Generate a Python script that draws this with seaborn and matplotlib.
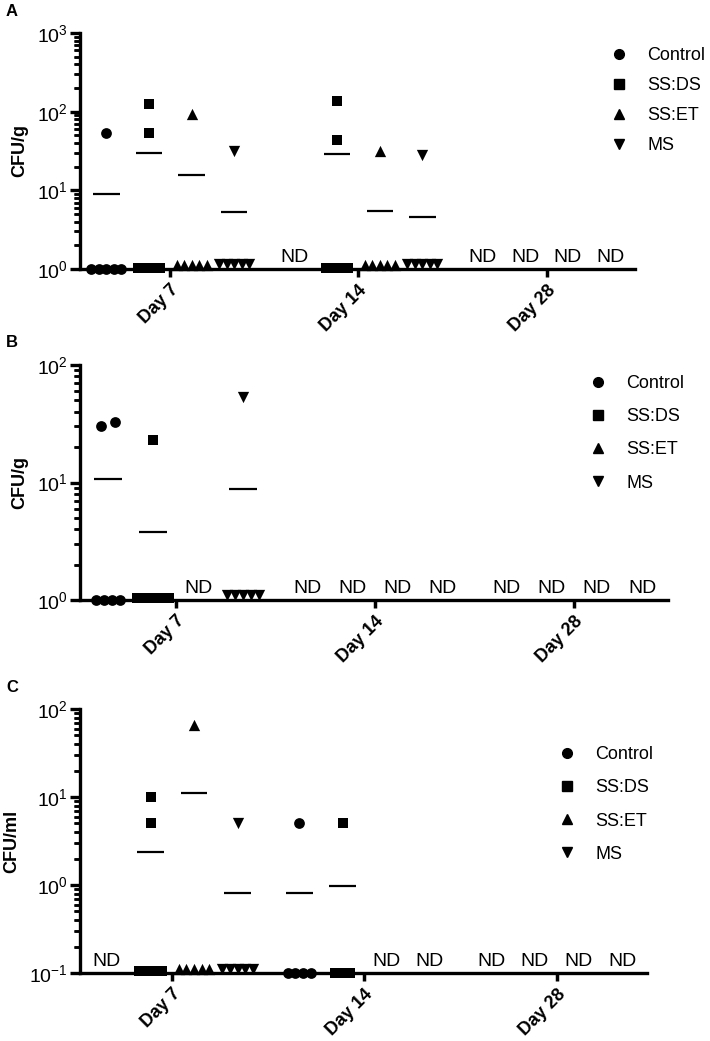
import numpy as np
import pandas as pd
import matplotlib
matplotlib.use('Agg')
import matplotlib.pyplot as plt
from matplotlib.lines import Line2D
from matplotlib.ticker import FixedLocator, LogFormatterSciNotation, NullFormatter
import seaborn as sns

sns.set_theme(style='ticks')
plt.rcParams['font.family'] = ['Liberation Sans', 'DejaVu Sans']
plt.rcParams['mathtext.fontset'] = 'custom'
plt.rcParams['mathtext.rm'] = 'Liberation Sans'
plt.rcParams['mathtext.bf'] = 'Liberation Sans:bold'
plt.rcParams['mathtext.default'] = 'bf'
for k in ['text.color', 'axes.labelcolor', 'xtick.color', 'ytick.color', 'axes.edgecolor']:
    plt.rcParams[k] = 'black'

days = ['Day 7', 'Day 14', 'Day 28']
groups = ['Control', 'SS:DS', 'SS:ET', 'MS']
markers = {'Control': 'o', 'SS:DS': 's', 'SS:ET': '^', 'MS': 'v'}
msizes = {'Control': 60, 'SS:DS': 42, 'SS:ET': 66, 'MS': 66}

# panel A, CFU/g (None = ND)
a_control = [[54, 1, 1, 1, 1, 1], None, None]
a_ssds = [[126, 54, 1.03, 1.03, 1.03, 1.03], [135, 44, 1.03, 1.03, 1.03, 1.03], None]
a_sset = [[93, 1.12, 1.12, 1.12, 1.12, 1.12], [32, 1.12, 1.12, 1.12, 1.12, 1.12], None]
a_ms = [[32, 1.15, 1.15, 1.15, 1.15, 1.15], [28, 1.15, 1.15, 1.15, 1.15, 1.15], None]
a_means = [[9.0, None, None], [30, 29, None], [15.6, 5.5, None], [5.3, 4.6, None]]

# panel B, CFU/g
b_control = [[30, 33, 1, 1, 1, 1], None, None]
b_ssds = [[23, 1.05, 1.05, 1.05, 1.05, 1.05], None, None]
b_sset = [None, None, None]
b_ms = [[53, 1.1, 1.1, 1.1, 1.1, 1.1], None, None]
b_means = [[10.7, None, None], [3.8, None, None], [None, None, None], [8.8, None, None]]

# panel C, CFU/ml
c_control = [None, [5, 0.1, 0.1, 0.1, 0.1], None]
c_ssds = [[10, 5, 0.105, 0.105, 0.105, 0.105], [5, 0.1, 0.1, 0.1], None]
c_sset = [[66, 0.11, 0.11, 0.11, 0.11, 0.11], None, None]
c_ms = [[5, 0.11, 0.11, 0.11, 0.11, 0.11], None, None]
c_means = [[None, 0.81, None], [2.4, 0.98, None], [11, None, None], [0.81, None, None]]

offsets = [-0.34, -0.113, 0.113, 0.34]


def spread(vals, center):
    # close values are spread sideways like a column scatter
    vals = np.asarray(vals, dtype=float)
    logs = np.log10(vals)
    order = np.argsort(logs)
    xs = np.full(len(vals), center)
    clusters = [[order[0]]]
    for k in order[1:]:
        if logs[k] - logs[clusters[-1][-1]] < 0.1:
            clusters[-1].append(k)
        else:
            clusters.append([k])
    for cl in clusters:
        n = len(cl)
        step = 0.07 if n <= 2 else 0.04
        for j, k in enumerate(cl):
            xs[k] = center + (j - (n - 1) / 2) * step
    return xs


def panel(rect, series, means, ylim, ylabel, letter, leg_xy, lspace):
    l, t, r, b = rect
    ax = fig.add_axes([l / 710, 1 - b / 1041, (r - l) / 710, (b - t) / 1041])
    ax.set_yscale('log')
    rows = []
    for g, data in zip(groups, series):
        gi = groups.index(g)
        for di, vals in enumerate(data):
            cx = di + offsets[gi]
            if vals is None:
                ax.annotate('ND', (cx, ylim[0]), xytext=(0, 2), textcoords='offset points',
                            ha='center', va='bottom', fontsize=14)
                continue
            for x, v in zip(spread(vals, cx), vals):
                rows.append({'x': x, 'value': v, 'group': g})
            m = means[gi][di]
            if m is not None:
                ax.hlines(m, cx - 0.07, cx + 0.07, color='black', lw=1.6)
    df = pd.DataFrame(rows)
    for g in groups:
        sub = df[df['group'] == g]
        if len(sub):
            sns.scatterplot(data=sub, x='x', y='value', marker=markers[g], color='black',
                            s=msizes[g], linewidth=0, clip_on=False, legend=False,
                            ax=ax, zorder=3)
    ax.set_ylim(*ylim)
    ax.set_xlim(-0.48, 2.47)
    lo, hi = int(round(np.log10(ylim[0]))), int(round(np.log10(ylim[1])))
    minor_locs = [m * 10.0 ** k for k in range(lo, hi) for m in range(2, 10)]
    ax.yaxis.set_major_locator(FixedLocator([10.0 ** k for k in range(lo, hi + 1)]))
    ax.yaxis.set_major_formatter(LogFormatterSciNotation())
    ax.yaxis.set_minor_locator(FixedLocator(minor_locs))
    ax.yaxis.set_minor_formatter(NullFormatter())
    # short minor ticks on the y axis, drawn outside the axes
    ax.hlines(minor_locs, -6.5 / (r - l), 0, transform=ax.get_yaxis_transform(),
              color='black', lw=1.8, clip_on=False)
    ax.set_xticks(range(3))
    ax.set_xticklabels(days, rotation=45, ha='right', va='top', rotation_mode='anchor',
                       fontsize=13, fontweight='bold')
    ax.tick_params(axis='y', which='major', left=True, length=7, width=2.4, pad=2,
                   labelsize=14)
    ax.tick_params(axis='y', which='minor', left=True, length=4.5, width=1.8,
                   color='black')
    ax.tick_params(axis='x', which='major', length=6, width=2.5, pad=3)
    ax.tick_params(axis='x', which='minor', bottom=False)
    for s in ['top', 'right']:
        ax.spines[s].set_visible(False)
    for s in ['left', 'bottom']:
        ax.spines[s].set_linewidth(2.4)
    ax.set_xlabel('')
    ax.set_ylabel(ylabel, fontsize=13, fontweight='bold', labelpad=6)
    ax.grid(False)
    fig.text(6 / 710, 1 - (t - 22) / 1041, letter, fontsize=12, fontweight='bold',
             ha='left', va='center')
    handles = [Line2D([], [], marker=markers[g], color='black', ls='none', markersize=7)
               for g in groups]
    ax.legend(handles, groups, loc='upper left',
              bbox_to_anchor=(leg_xy[0] / 710, 1 - leg_xy[1] / 1041),
              bbox_transform=fig.transFigure, frameon=False, fontsize=13,
              handlelength=1.0, handletextpad=1.05, labelspacing=lspace,
              borderpad=0, borderaxespad=0)
    return ax


fig = plt.figure(figsize=(7.1, 10.41), dpi=100)

panel((80, 33, 635, 269), [a_control, a_ssds, a_sset, a_ms], a_means,
      (1, 1000), 'CFU/g', 'A', (610, 47), 0.72)
panel((80, 365, 668, 600), [b_control, b_ssds, b_sset, b_ms], b_means,
      (1, 100), 'CFU/g', 'B', (589, 375), 0.9)
panel((80, 709, 647, 973), [c_control, c_ssds, c_sset, c_ms], c_means,
      (0.1, 100), 'CFU/ml', 'C', (558, 746), 0.9)

fig.savefig('out.png', dpi=100)
